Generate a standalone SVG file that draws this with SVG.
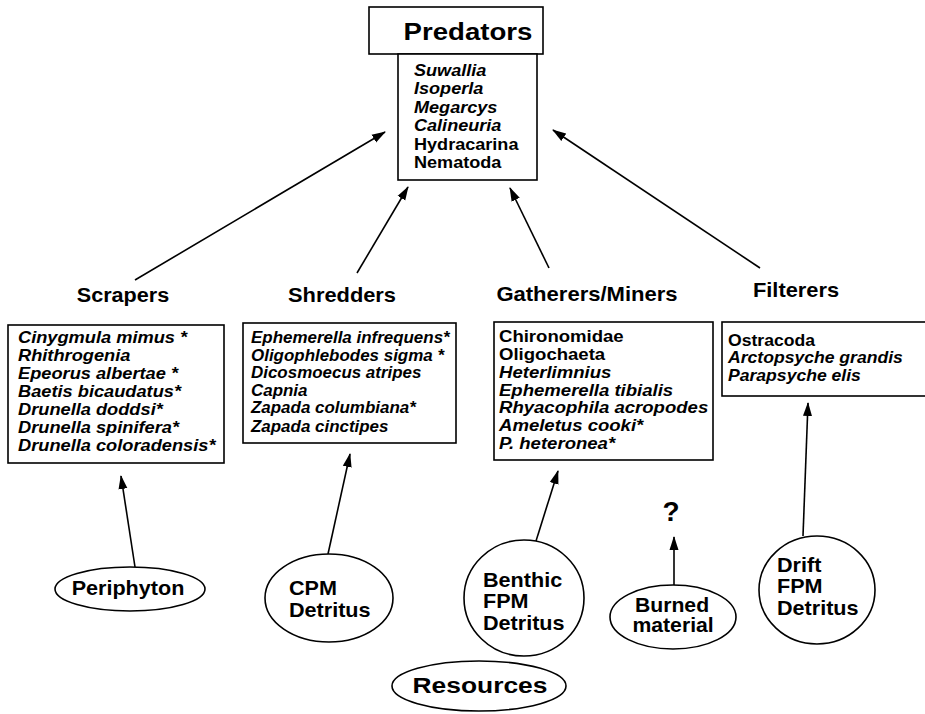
<svg xmlns="http://www.w3.org/2000/svg" width="925" height="714" viewBox="0 0 925 714">
<defs>
<style>
text{font-family:"Liberation Sans",Arial,Helvetica,sans-serif;font-weight:bold;fill:#000}
.box{fill:#fff;stroke:#000;stroke-width:1.6}
.ell{fill:#fff;stroke:#000;stroke-width:1.6}
.lst{font-size:16px}
.it{font-style:italic}
.lbl{font-size:21px}
.res{font-size:20px}
.con{stroke:#000;stroke-width:1.6;fill:none;marker-end:url(#ah)}
</style>
<marker id="ah" markerUnits="userSpaceOnUse" markerWidth="14" markerHeight="10" refX="13" refY="4.5" orient="auto" viewBox="0 0 14 9">
<path d="M0,0 L14,4.5 L0,9 z" fill="#000"/>
</marker>
</defs>
<rect width="925" height="714" fill="#fff"/>

<g id="connectors">
<line class="con" x1="135" y1="280" x2="385" y2="132"/>
<line class="con" x1="357" y1="273" x2="408" y2="187"/>
<line class="con" x1="549" y1="268" x2="510" y2="188"/>
<line class="con" x1="760" y1="268" x2="553" y2="130"/>
<line class="con" x1="135" y1="567" x2="121" y2="476"/>
<line class="con" x1="328" y1="554" x2="350" y2="454"/>
<line class="con" x1="536" y1="541" x2="558" y2="471"/>
<line class="con" x1="674" y1="585" x2="674" y2="537"/>
<line class="con" x1="803" y1="536" x2="808" y2="403"/>
</g>

<g id="predators">
<rect class="box" x="369" y="7" width="174" height="47"/>
<g transform="translate(468,40) scale(1.15,1)"><text text-anchor="middle" font-size="24">Predators</text></g>
<rect class="box" x="398" y="54" width="139" height="126"/>
<g transform="translate(414,76) scale(1.13,1)">
<text class="lst"><tspan class="it" x="0" y="0">Suwallia</tspan><tspan class="it" x="0" y="18.4">Isoperla</tspan><tspan class="it" x="0" y="36.8">Megarcys</tspan><tspan class="it" x="0" y="55.2">Calineuria</tspan><tspan x="0" y="74.5">Hydracarina</tspan><tspan x="0" y="92">Nematoda</tspan></text>
</g>
</g>

<g id="scrapers">
<g transform="translate(123,302) scale(1.03,1)"><text class="lbl" text-anchor="middle">Scrapers</text></g>
<rect class="box" x="8" y="325" width="216" height="138"/>
<g transform="translate(18,343) scale(1.14,1)">
<text class="lst it"><tspan x="0" y="0">Cinygmula mimus *</tspan><tspan x="0" y="18">Rhithrogenia</tspan><tspan x="0" y="36">Epeorus albertae *</tspan><tspan x="0" y="54">Baetis bicaudatus*</tspan><tspan x="0" y="72">Drunella doddsi*</tspan><tspan x="0" y="90">Drunella spinifera*</tspan><tspan x="0" y="108.5">Drunella coloradensis*</tspan></text>
</g>
</g>

<g id="shredders">
<g transform="translate(342,302) scale(1.04,1)"><text class="lbl" text-anchor="middle">Shredders</text></g>
<rect class="box" x="243" y="323" width="213" height="120"/>
<g transform="translate(251,343) scale(1.06,1)">
<text class="lst it"><tspan x="0" y="0">Ephemerella infrequens*</tspan><tspan x="0" y="18">Oligophlebodes sigma *</tspan><tspan x="0" y="35.5">Dicosmoecus atripes</tspan><tspan x="0" y="53">Capnia</tspan><tspan x="0" y="70.5">Zapada columbiana*</tspan><tspan x="0" y="89">Zapada cinctipes</tspan></text>
</g>
</g>

<g id="gatherers">
<g transform="translate(587,301) scale(1.05,1)"><text class="lbl" text-anchor="middle">Gatherers/Miners</text></g>
<rect class="box" x="494" y="322" width="219" height="138"/>
<g transform="translate(499,342) scale(1.16,1)">
<text class="lst"><tspan x="0" y="0">Chironomidae</tspan><tspan x="0" y="18">Oligochaeta</tspan><tspan class="it" x="0" y="36">Heterlimnius</tspan><tspan class="it" x="0" y="54">Ephemerella tibialis</tspan><tspan class="it" x="0" y="71.5">Rhyacophila acropodes</tspan><tspan class="it" x="0" y="89.5">Ameletus cooki*</tspan><tspan class="it" x="0" y="107.5">P. heteronea*</tspan></text>
</g>
</g>

<g id="filterers">
<g transform="translate(796,297) scale(1.04,1)"><text class="lbl" text-anchor="middle">Filterers</text></g>
<rect class="box" x="722" y="322" width="210" height="74"/>
<g transform="translate(728,346) scale(1.1,1)">
<text class="lst"><tspan x="0" y="0">Ostracoda</tspan><tspan class="it" x="0" y="17.5">Arctopsyche grandis</tspan><tspan class="it" x="0" y="35">Parapsyche elis</tspan></text>
</g>
</g>

<g id="periphyton">
<ellipse class="ell" cx="130" cy="589" rx="75" ry="22"/>
<g transform="translate(128,595) scale(1.08,1)"><text class="res" text-anchor="middle">Periphyton</text></g>
</g>

<g id="cpm">
<ellipse class="ell" cx="329" cy="598" rx="64" ry="44"/>
<g transform="translate(289,595) scale(1.08,1)"><text class="res"><tspan x="0" y="0">CPM</tspan><tspan x="0" y="22">Detritus</tspan></text></g>
</g>

<g id="benthic">
<ellipse class="ell" cx="524" cy="598" rx="60" ry="58"/>
<g transform="translate(483,587) scale(1.08,1)"><text class="res"><tspan x="0" y="0">Benthic</tspan><tspan x="0" y="21.5">FPM</tspan><tspan x="0" y="43">Detritus</tspan></text></g>
</g>

<g id="burned">
<ellipse class="ell" cx="673" cy="617" rx="63" ry="32"/>
<g transform="translate(672,612) scale(1.06,1)"><text class="res" text-anchor="middle"><tspan x="0" y="0">Burned</tspan><tspan x="1" y="20.5">material</tspan></text></g>
</g>

<g id="question">
<text x="671" y="521" font-size="28" text-anchor="middle">?</text>
</g>

<g id="drift">
<ellipse class="ell" cx="817" cy="590" rx="58" ry="54"/>
<g transform="translate(777,572) scale(1.08,1)"><text class="res"><tspan x="0" y="0">Drift</tspan><tspan x="0" y="21.5">FPM</tspan><tspan x="0" y="43">Detritus</tspan></text></g>
</g>

<g id="resources">
<ellipse class="ell" cx="479" cy="686" rx="87" ry="25"/>
<g transform="translate(480,693) scale(1.2,1)"><text font-size="22" text-anchor="middle">Resources</text></g>
</g>
</svg>
